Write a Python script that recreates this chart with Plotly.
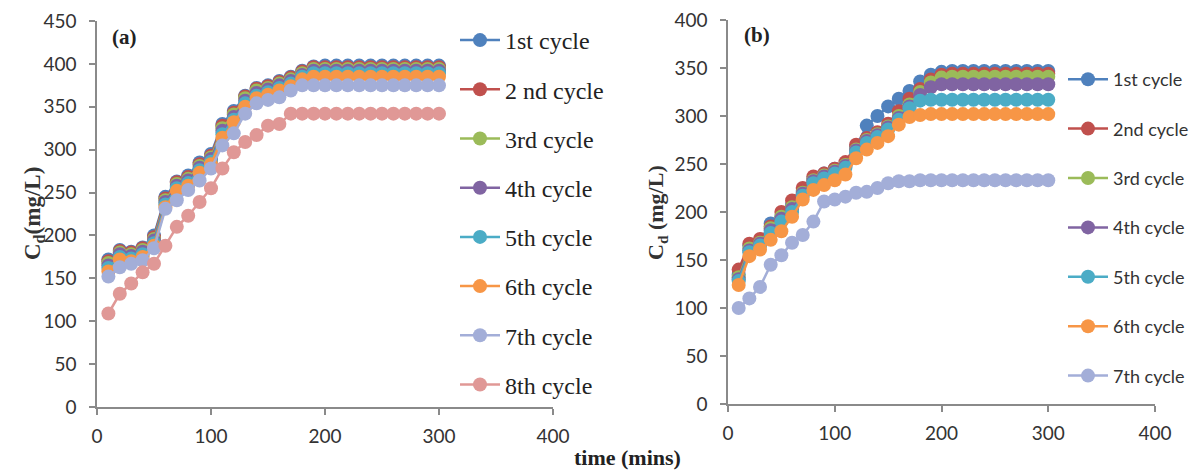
import plotly.graph_objects as go

# Sampling times (minutes)
time_min = list(range(10, 310, 10))

# Panel (a): desorbed concentration C_d (mg/L) for eight adsorption-desorption cycles
a_labels = ["1st cycle", "2 nd cycle", "3rd cycle", "4th cycle",
            "5th cycle", "6th cycle", "7th cycle", "8th cycle"]
a_cycle1 = [172, 183, 181, 186, 200, 245, 263, 270, 285, 295, 330, 345, 363, 372, 375,
            380, 385, 392, 397, 398, 398, 398, 398, 398, 398, 398, 398, 398, 398, 398]
a_cycle2 = [170, 182, 180, 185, 198, 243, 262, 268, 283, 293, 328, 343, 362, 371, 374,
            379, 384, 391, 396, 396, 396, 396, 396, 396, 396, 396, 396, 396, 396, 396]
a_cycle3 = [168, 180, 178, 183, 196, 241, 260, 266, 281, 291, 325, 341, 360, 369, 372,
            377, 382, 389, 394, 394, 394, 394, 394, 394, 394, 394, 394, 394, 394, 394]
a_cycle4 = [165, 178, 176, 181, 194, 239, 258, 264, 279, 289, 322, 338, 357, 366, 370,
            375, 380, 387, 392, 392, 392, 392, 392, 392, 392, 392, 392, 392, 392, 392]
a_cycle5 = [162, 175, 173, 178, 191, 236, 255, 261, 276, 286, 318, 335, 354, 363, 367,
            372, 377, 385, 389, 389, 389, 389, 389, 389, 389, 389, 389, 389, 389, 389]
a_cycle6 = [158, 172, 170, 175, 188, 233, 252, 258, 273, 283, 314, 332, 350, 360, 364,
            369, 374, 382, 385, 385, 385, 385, 385, 385, 385, 385, 385, 385, 385, 385]
a_cycle7 = [152, 163, 167, 171, 185, 231, 241, 253, 264, 278, 305, 319, 342, 354, 358,
            361, 369, 375, 375, 375, 375, 375, 375, 375, 375, 375, 375, 375, 375, 375]
a_cycle8 = [109, 132, 144, 157, 167, 188, 210, 223, 239, 255, 278, 297, 309, 317, 328,
            330, 342, 342, 342, 342, 342, 342, 342, 342, 342, 342, 342, 342, 342, 342]
a_series = [a_cycle1, a_cycle2, a_cycle3, a_cycle4, a_cycle5, a_cycle6, a_cycle7, a_cycle8]

# Panel (b): seven cycles
b_labels = ["1st cycle", "2nd cycle", "3rd cycle", "4th cycle",
            "5th cycle", "6th cycle", "7th cycle"]
b_cycle1 = [135, 165, 170, 188, 195, 207, 222, 235, 240, 245, 250, 268, 290, 300, 310,
            318, 326, 336, 343, 346, 347, 347, 347, 347, 347, 347, 347, 347, 347, 347]
b_cycle2 = [140, 167, 172, 185, 200, 212, 225, 237, 240, 245, 252, 270, 277, 283, 292,
            305, 318, 328, 338, 343, 344, 344, 344, 344, 344, 344, 344, 344, 344, 344]
b_cycle3 = [132, 162, 168, 183, 195, 205, 220, 233, 238, 243, 249, 265, 275, 281, 289,
            300, 312, 325, 335, 340, 341, 341, 341, 341, 341, 341, 341, 341, 341, 341]
b_cycle4 = [130, 160, 167, 181, 193, 203, 219, 232, 237, 242, 248, 264, 274, 280, 288,
            298, 310, 322, 330, 333, 333, 333, 333, 333, 333, 333, 333, 333, 333, 333]
b_cycle5 = [128, 158, 165, 178, 190, 200, 217, 230, 235, 240, 246, 262, 272, 278, 286,
            296, 308, 316, 317, 317, 317, 317, 317, 317, 317, 317, 317, 317, 317, 317]
b_cycle6 = [124, 154, 161, 171, 180, 195, 213, 223, 228, 233, 239, 256, 265, 272, 279,
            291, 299, 301, 302, 302, 302, 302, 302, 302, 302, 302, 302, 302, 302, 302]
b_cycle7 = [100, 110, 122, 145, 155, 168, 176, 190, 211, 213, 216, 220, 221, 225, 230,
            232, 232, 233, 233, 233, 233, 233, 233, 233, 233, 233, 233, 233, 233, 233]
b_series = [b_cycle1, b_cycle2, b_cycle3, b_cycle4, b_cycle5, b_cycle6, b_cycle7]

colors = ["#4F81BD", "#C0504D", "#9BBB59", "#8064A2",
          "#4BACC6", "#F79646", "#A3AED8", "#E09896"]

W, H = 1195, 470
def px_x(p):
    return p / W
def px_y(p):
    return 1 - p / H

fig = go.Figure()

for i, (name, ys) in enumerate(zip(a_labels, a_series)):
    fig.add_trace(go.Scatter(
        x=time_min, y=ys, name=name, mode="lines+markers",
        line=dict(color=colors[i], width=2.5),
        marker=dict(color=colors[i], size=14),
        xaxis="x", yaxis="y", legend="legend", legendgroup=f"a{i}",
    ))

for i, (name, ys) in enumerate(zip(b_labels, b_series)):
    fig.add_trace(go.Scatter(
        x=time_min, y=ys, name=name, mode="lines+markers",
        line=dict(color=colors[i], width=2.5),
        marker=dict(color=colors[i], size=14),
        xaxis="x2", yaxis="y2", legend="legend2", legendgroup=f"b{i}",
    ))

tick_font = dict(family="Lato", size=19, color="#333333")
axis_common = dict(
    showline=True, linecolor="#8a8a8a", linewidth=1.5,
    ticks="outside", ticklen=6, tickcolor="#8a8a8a", tickwidth=1.5,
    showgrid=False, zeroline=False, tickfont=tick_font,
    fixedrange=True, automargin=False,
)

def note(text, x, y, size, angle=0, color="#222222"):
    return dict(text=text, x=px_x(x), y=px_y(y), xref="paper", yref="paper",
                xanchor="center", yanchor="middle", textangle=angle, showarrow=False,
                font=dict(family="Liberation Serif", size=size, color=color))

fig.update_layout(
    template="none",
    width=W, height=H,
    margin=dict(l=0, r=0, t=0, b=0, autoexpand=False),
    paper_bgcolor="white", plot_bgcolor="white",
    xaxis=dict(domain=[px_x(97), px_x(553)], range=[0, 400], dtick=100,
               anchor="y", ticklabelstandoff=5, **axis_common),
    yaxis=dict(domain=[px_y(407), px_y(21)], range=[0, 450], dtick=50,
               anchor="x", ticklabelstandoff=9, **axis_common),
    xaxis2=dict(domain=[px_x(728), px_x(1155)], range=[0, 400], dtick=100,
                anchor="y2", ticklabelstandoff=5, **axis_common),
    yaxis2=dict(domain=[px_y(404), px_y(20)], range=[0, 400], dtick=50,
                anchor="x2", ticklabelstandoff=9, **axis_common),
    legend=dict(
        x=px_x(455), y=px_y(18), xanchor="left", yanchor="top",
        font=dict(family="Liberation Serif", size=24, color="#222222"),
        tracegroupgap=15, itemwidth=40, bgcolor="rgba(0,0,0,0)",
    ),
    legend2=dict(
        x=px_x(1063), y=px_y(61), xanchor="left", yanchor="top",
        font=dict(family="Lato", size=18, color="#333333"),
        tracegroupgap=23, itemwidth=40, bgcolor="rgba(0,0,0,0)",
    ),
    annotations=[
        note("<b>(a)</b>", 124, 37, 21),
        note("<b>(b)</b>", 757, 35, 21),
        note("<b>C<sub>d</sub>(mg/L)</b>", 34, 214, 23, angle=-90, color="#333333"),
        note("<b>C<sub>d</sub> (mg/L)</b>", 657, 213, 22, angle=-90, color="#333333"),
        note("<b>time (mins)</b>", 627, 457, 22),
    ],
)

fig.write_html("out.html")
